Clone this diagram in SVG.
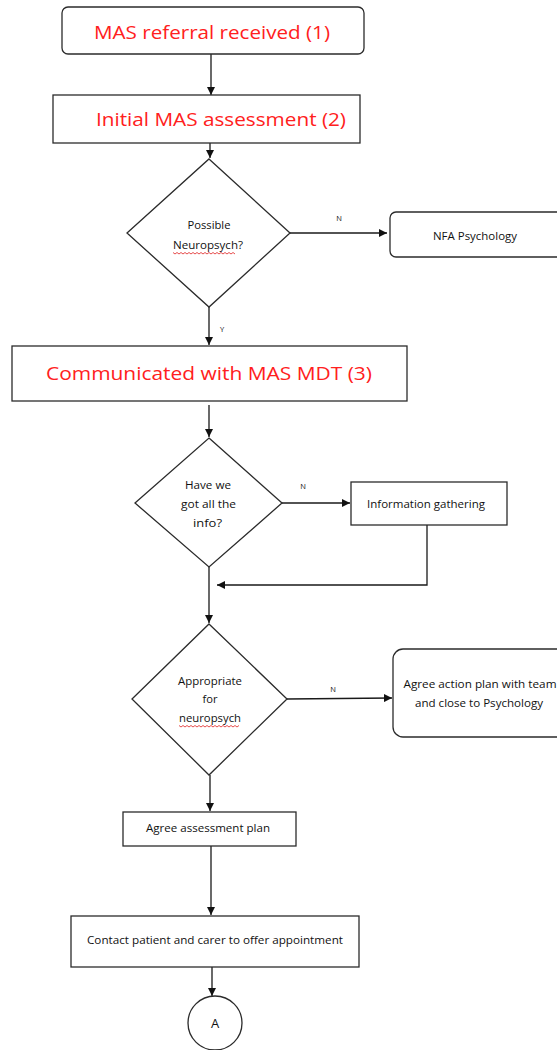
<svg xmlns="http://www.w3.org/2000/svg" width="557" height="1050" viewBox="0 0 557 1050">
  <style>
    .box { fill: #ffffff; stroke: #2b2b2b; stroke-width: 1.3; }
    .edge { fill: none; stroke: #1a1a1a; stroke-width: 1.3; }
    .title { font-family: "Open Sans", "Liberation Sans", sans-serif; font-size: 19px; fill: #ff2020; text-anchor: middle; }
    .small { font-family: "Open Sans", "Liberation Sans", sans-serif; font-size: 10.5px; fill: #111; text-anchor: middle; }
    .lbl { font-family: "Open Sans", "Liberation Sans", sans-serif; font-size: 7.5px; fill: #111; text-anchor: middle; }
    .squiggle { fill: none; stroke: #e02020; stroke-width: 0.8; }
  </style>
  <defs>
    <marker id="arrow" viewBox="0 0 10 10" refX="10" refY="5" markerWidth="8" markerHeight="8" markerUnits="userSpaceOnUse" orient="auto">
      <path d="M0,0 L10,5 L0,10 Z" fill="#111"/>
    </marker>
  </defs>
  <rect width="557" height="1050" fill="#ffffff"/>

  <g id="connectors">
    <line class="edge" x1="211" y1="54" x2="211" y2="95" marker-end="url(#arrow)"/>
    <line class="edge" x1="210" y1="143" x2="210" y2="158" marker-end="url(#arrow)"/>
    <line class="edge" x1="290" y1="233" x2="387" y2="233" marker-end="url(#arrow)"/>
    <text class="lbl" x="339" y="221">N</text>
    <line class="edge" x1="209" y1="307" x2="209" y2="345" marker-end="url(#arrow)"/>
    <text class="lbl" x="222" y="332">Y</text>
    <line class="edge" x1="209" y1="405" x2="209" y2="437" marker-end="url(#arrow)"/>
    <line class="edge" x1="282" y1="503" x2="350" y2="503" marker-end="url(#arrow)"/>
    <text class="lbl" x="303" y="489">N</text>
    <polyline class="edge" points="427,525 427,585 217,585" marker-end="url(#arrow)"/>
    <line class="edge" x1="209" y1="567" x2="209" y2="623" marker-end="url(#arrow)"/>
    <line class="edge" x1="287" y1="699" x2="392" y2="698" marker-end="url(#arrow)"/>
    <text class="lbl" x="333" y="692">N</text>
    <line class="edge" x1="210" y1="775" x2="210" y2="811" marker-end="url(#arrow)"/>
    <line class="edge" x1="211" y1="846" x2="211" y2="915" marker-end="url(#arrow)"/>
    <line class="edge" x1="212" y1="967" x2="212" y2="996" marker-end="url(#arrow)"/>
  </g>

  <g id="referral">
    <rect class="box" x="62" y="7" width="302" height="47" rx="6"/>
    <text class="title" x="212" y="39" textLength="236" lengthAdjust="spacingAndGlyphs">MAS referral received (1)</text>
  </g>

  <g id="initial-assessment">
    <rect class="box" x="53" y="95" width="307" height="48"/>
    <text class="title" x="221" y="126" textLength="250" lengthAdjust="spacingAndGlyphs">Initial MAS assessment (2)</text>
  </g>

  <g id="possible-neuropsych">
    <polygon class="box" points="209,159 290,233 209,307 127,233"/>
    <text class="small" x="209" y="229" textLength="43" lengthAdjust="spacingAndGlyphs">Possible</text>
    <text class="small" x="208" y="249" textLength="70" lengthAdjust="spacingAndGlyphs">Neuropsych?</text>
    <path class="squiggle" d="M173,252.5 l2,1.5 l2,-1.5 l2,1.5 l2,-1.5 l2,1.5 l2,-1.5 l2,1.5 l2,-1.5 l2,1.5 l2,-1.5 l2,1.5 l2,-1.5 l2,1.5 l2,-1.5 l2,1.5 l2,-1.5 l2,1.5 l2,-1.5 l2,1.5 l2,-1.5 l2,1.5 l2,-1.5 l2,1.5 l2,-1.5 l2,1.5 l2,-1.5 l2,1.5 l2,-1.5 l2,1.5 l2,-1.5 l2,1.5"/>
  </g>

  <g id="nfa-psychology">
    <rect class="box" x="390" y="212" width="175" height="45" rx="6"/>
    <text class="small" x="475" y="240" textLength="84" lengthAdjust="spacingAndGlyphs">NFA Psychology</text>
  </g>

  <g id="communicated-mdt">
    <rect class="box" x="12" y="346" width="395" height="55"/>
    <text class="title" x="209" y="380" textLength="326" lengthAdjust="spacingAndGlyphs">Communicated with MAS MDT (3)</text>
  </g>

  <g id="all-info">
    <polygon class="box" points="209,438 282,503 209,567 135,503"/>
    <text class="small" x="208" y="489" textLength="46" lengthAdjust="spacingAndGlyphs">Have we</text>
    <text class="small" x="208.5" y="508" textLength="55" lengthAdjust="spacingAndGlyphs">got all the</text>
    <text class="small" x="207.5" y="527" textLength="29" lengthAdjust="spacingAndGlyphs">info?</text>
  </g>

  <g id="information-gathering">
    <rect class="box" x="351" y="482" width="156" height="43"/>
    <text class="small" x="426" y="508" textLength="118" lengthAdjust="spacingAndGlyphs">Information gathering</text>
  </g>

  <g id="appropriate-neuropsych">
    <polygon class="box" points="209,624 287,699 209,775 132,699"/>
    <text class="small" x="210" y="685" textLength="64" lengthAdjust="spacingAndGlyphs">Appropriate</text>
    <text class="small" x="210" y="703" textLength="15" lengthAdjust="spacingAndGlyphs">for</text>
    <text class="small" x="210" y="722" textLength="62" lengthAdjust="spacingAndGlyphs">neuropsych</text>
    <path class="squiggle" d="M179,725.5 l2,1.5 l2,-1.5 l2,1.5 l2,-1.5 l2,1.5 l2,-1.5 l2,1.5 l2,-1.5 l2,1.5 l2,-1.5 l2,1.5 l2,-1.5 l2,1.5 l2,-1.5 l2,1.5 l2,-1.5 l2,1.5 l2,-1.5 l2,1.5 l2,-1.5 l2,1.5 l2,-1.5 l2,1.5 l2,-1.5 l2,1.5 l2,-1.5 l2,1.5 l2,-1.5 l2,1.5 l2,-1.5"/>
  </g>

  <g id="action-plan">
    <rect class="box" x="393" y="649" width="175" height="88" rx="10"/>
    <text class="small" x="480" y="688" textLength="153" lengthAdjust="spacingAndGlyphs">Agree action plan with team</text>
    <text class="small" x="479" y="707" textLength="128" lengthAdjust="spacingAndGlyphs">and close to Psychology</text>
  </g>

  <g id="assessment-plan">
    <rect class="box" x="123" y="812" width="173" height="34"/>
    <text class="small" x="208" y="832" textLength="124" lengthAdjust="spacingAndGlyphs">Agree assessment plan</text>
  </g>

  <g id="contact-patient">
    <rect class="box" x="71" y="916" width="288" height="51"/>
    <text class="small" x="215" y="944" textLength="256" lengthAdjust="spacingAndGlyphs">Contact patient and carer to offer appointment</text>
  </g>

  <g id="connector-a">
    <circle class="box" cx="215" cy="1023" r="27"/>
    <text class="small" x="215" y="1028" style="font-size:13px">A</text>
  </g>
</svg>
